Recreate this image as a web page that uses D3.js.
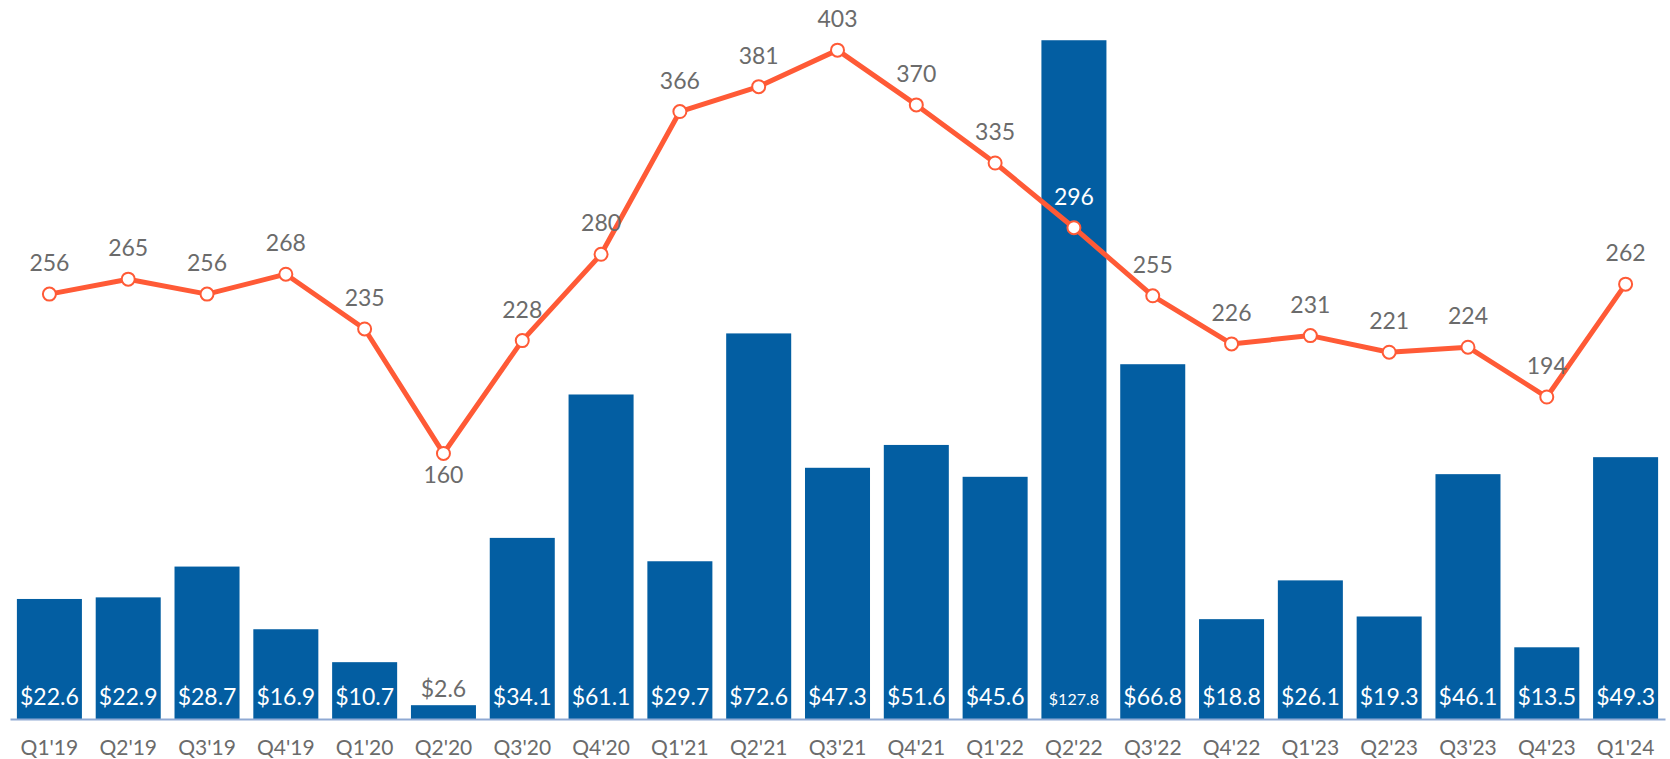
<!DOCTYPE html>
<html>
<head>
<meta charset="utf-8">
<script src="https://cdn.jsdelivr.net/npm/d3@7"></script>
<style>
body { margin: 0; background: #fff; }
text { font-family: Lato, "Open Sans", sans-serif; }
</style>
</head>
<body>
<div id="chart"></div>
<script>
var svgWidth = 1670;
var svgHeight = 759;

// data
var quarters = ["Q1'19","Q2'19","Q3'19","Q4'19","Q1'20","Q2'20","Q3'20","Q4'20","Q1'21","Q2'21","Q3'21",
    "Q4'21","Q1'22","Q2'22","Q3'22","Q4'22","Q1'23","Q2'23","Q3'23","Q4'23","Q1'24"];
var dollars = [22.6,22.9,28.7,16.9,10.7,2.6,34.1,61.1,29.7,72.6,47.3,51.6,45.6,127.8,66.8,18.8,26.1,19.3,46.1,13.5,49.3];
var counts = [256,265,256,268,235,160,228,280,366,381,403,370,335,296,255,226,231,221,224,194,262];

var baseY = 719;
var barColor = "#035ea2";
var lineColor = "#ff5a36";

var svg = d3.select("#chart")
    .append("svg")
    .attr("width", svgWidth)
    .attr("height", svgHeight);

var x = d3.scaleBand()
    .domain(quarters)
    .range([10, 1665])
    .paddingInner(0.175)
    .paddingOuter(0.0875);

var yBar = d3.scaleLinear().domain([0, 135]).range([baseY, 2]);
var yLine = d3.scaleLinear().domain([0, 432]).range([baseY, 2]);

var rows = quarters.map(function(q, i) {
    return {q: q, amt: dollars[i], n: counts[i]};
});

// bars
svg.selectAll("rect.bar")
    .data(rows)
    .enter()
    .append("rect")
    .attr("class", "bar")
    .attr("x", d => x(d.q))
    .attr("y", d => yBar(d.amt))
    .attr("width", x.bandwidth())
    .attr("height", d => baseY - yBar(d.amt))
    .attr("fill", barColor);

// axis line + tick labels
var xAxis = d3.axisBottom(x).tickSize(0).tickPadding(21);
var gx = svg.append("g")
    .attr("transform", "translate(0," + baseY + ")")
    .call(xAxis);
gx.select(".domain").attr("stroke", "#8fa9d3").attr("stroke-width", 2);
gx.selectAll("text")
    .attr("fill", "#6b6b6b")
    .style("font-size", "21px")
    .style("font-family", "Lato, sans-serif");

// bar value labels
svg.selectAll("text.amt")
    .data(rows)
    .enter()
    .append("text")
    .attr("class", "amt")
    .attr("x", d => x(d.q) + x.bandwidth() / 2)
    .attr("y", d => d.amt < 5 ? yBar(d.amt) - 8 : baseY - 14)
    .attr("text-anchor", "middle")
    .attr("fill", d => d.amt < 5 ? "#6b6b6b" : "#fff")
    .style("font-size", d => d.amt >= 100 ? "16px" : "23px")
    .text(d => "$" + d.amt.toFixed(1));

// line
var line = d3.line()
    .x(d => x(d.q) + x.bandwidth() / 2)
    .y(d => yLine(d.n));

svg.append("path")
    .datum(rows)
    .attr("d", line)
    .attr("fill", "none")
    .attr("stroke", lineColor)
    .attr("stroke-width", 5)
    .attr("stroke-linejoin", "round");

svg.selectAll("circle.pt")
    .data(rows)
    .enter()
    .append("circle")
    .attr("class", "pt")
    .attr("cx", d => x(d.q) + x.bandwidth() / 2)
    .attr("cy", d => yLine(d.n))
    .attr("r", 6.5)
    .attr("fill", "#fff")
    .attr("stroke", lineColor)
    .attr("stroke-width", 2);

// count labels
svg.selectAll("text.cnt")
    .data(rows)
    .enter()
    .append("text")
    .attr("class", "cnt")
    .attr("x", d => x(d.q) + x.bandwidth() / 2)
    .attr("y", d => d.q == "Q2'20" ? yLine(d.n) + 30 : yLine(d.n) - 23)
    .attr("text-anchor", "middle")
    .attr("fill", d => d.q == "Q2'22" ? "#fff" : "#6b6b6b")
    .style("font-size", "23px")
    .text(d => d.n);
</script>
</body>
</html>
